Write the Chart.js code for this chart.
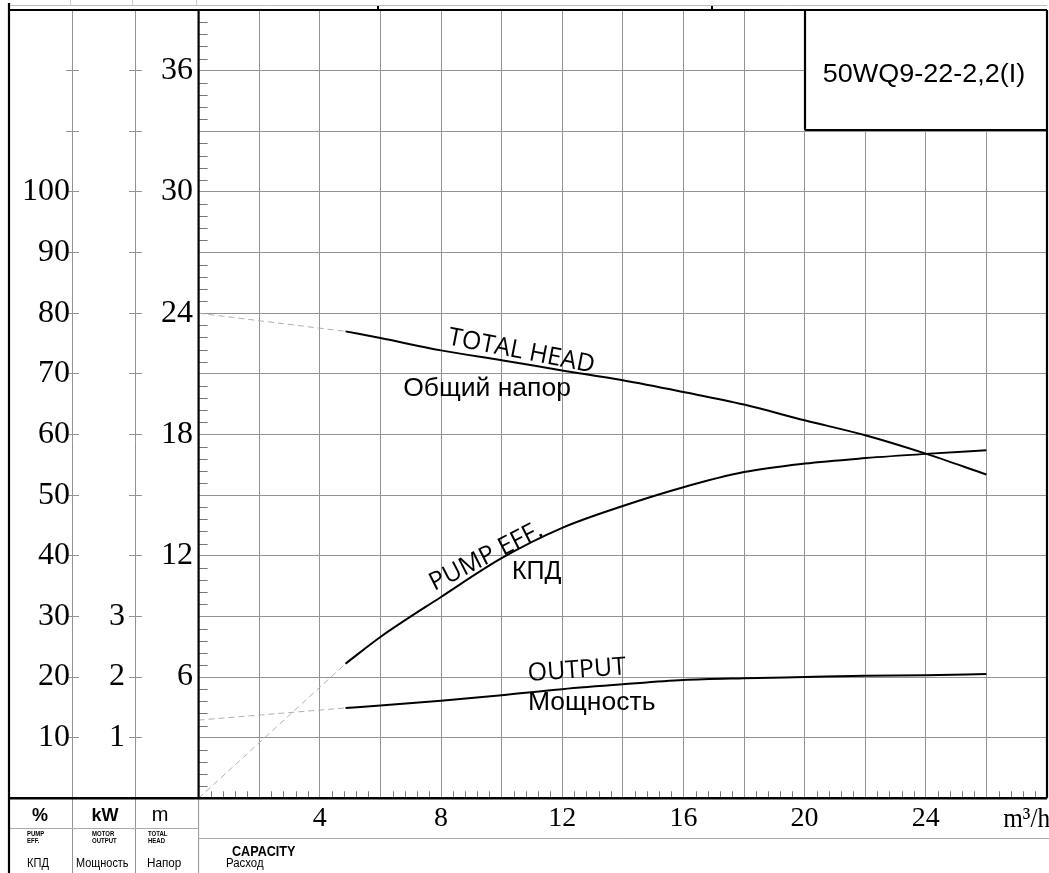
<!DOCTYPE html>
<html><head><meta charset="utf-8">
<script src="https://cdn.jsdelivr.net/npm/chart.js@4"></script>
<style>html,body{margin:0;padding:0;background:#fff;overflow:hidden}#wrap{width:1049px;height:873px;position:relative}</style>
</head><body><div id="wrap"><canvas id="c" width="1049" height="873"></canvas></div>
<script>
// ---- data ----
const flow     = [4.85, 6, 8, 10, 12, 14, 16, 18, 20, 22, 24, 26];          // m3/h
const headM    = [23.1, 22.77, 22.16, 21.67, 21.17, 20.68, 20.1, 19.48, 18.7, 17.96, 17.05, 16.02]; // m
const effPct   = [22.2, 26.6, 33.2, 39.6, 44.6, 48.2, 51.3, 53.8, 55.2, 56.1, 56.8, 57.4];       // %
const powerKW  = [1.49, 1.53, 1.61, 1.70, 1.80, 1.88, 1.95, 1.98, 2.00, 2.02, 2.03, 2.05];       // kW
// dashed extrapolation toward zero flow
const extFlow  = [0, 4.85];
const headExt  = [24.0, 23.1];
const effExt   = [0, 22.2];
const powerExt = [1.29, 1.49];
// tick labels
const xTickLabels    = [4, 8, 12, 16, 20, 24];
const headTickLabels = [6, 12, 18, 24, 30, 36];
const effTickLabels  = [10, 20, 30, 40, 50, 60, 70, 80, 90, 100];
const powerTickLabels= [1, 2, 3];
const modelName = '50WQ9-22-2,2(I)';

const pts = (xs, ys) => xs.map((x, i) => ({x: x, y: ys[i]}));
const SERIF = '"Liberation Serif", "Times New Roman", serif';
const SANS = '"Liberation Sans", Arial, sans-serif';
const OPEN = '"Open Sans", "Liberation Sans", sans-serif';
const GRID = '#939393';

function txt(ctx, s, x, y, font, align, baseline, sx, rotDeg) {
  ctx.save();
  ctx.translate(x, y);
  if (rotDeg) ctx.rotate(rotDeg * Math.PI / 180);
  if (sx && sx !== 1) ctx.scale(sx, 1);
  ctx.font = font; ctx.textAlign = align; ctx.textBaseline = baseline;
  ctx.fillStyle = '#000';
  ctx.fillText(s, 0, 0);
  ctx.restore();
}
function line(ctx, x1, y1, x2, y2, color, w) {
  ctx.save(); ctx.strokeStyle = color; ctx.lineWidth = w; ctx.setLineDash([]);
  ctx.beginPath(); ctx.moveTo(x1, y1); ctx.lineTo(x2, y2); ctx.stroke(); ctx.restore();
}

const curveLabels = [
  {text: 'TOTAL HEAD', x: 8.2, m: 22.46, rot: 11, font: '500 25px ' + OPEN},
  {text: 'Общий напор', x: 6.75, m: 19.91, rot: 0, font: '26.5px ' + SANS},
  {text: 'PUMP EFF.', x: 7.78, m: 10.25, rot: -27, font: '500 25px ' + OPEN},
  {text: 'КПД', x: 10.34, m: 10.85, rot: 0, font: '25px ' + SANS},
  {text: 'OUTPUT', x: 10.88, m: 5.80, rot: -4, font: '500 25px ' + OPEN},
  {text: 'Мощность', x: 10.87, m: 4.37, rot: 0, font: '26.5px ' + SANS}
];

const decor = {
  id: 'decor',
  afterDraw(chart) {
    const ctx = chart.ctx;
    const ca = chart.chartArea;
    const xs = chart.scales.x, ys = chart.scales.m;
    const L = ca.left, R = ca.right, T = ca.top, B = ca.bottom;
    const W = 1049, H = 873;
    // minor ticks
    ctx.save();
    ctx.strokeStyle = '#777'; ctx.lineWidth = 1;
    for (let i = 1; i < 65; i++) {
      if (i % 5 === 0) continue;
      const y = Math.round(ys.getPixelForValue(i * 0.6)) + 0.5;
      ctx.beginPath(); ctx.moveTo(L, y); ctx.lineTo(L + 9, y); ctx.stroke();
    }
    for (let i = 1; i < 70; i++) {
      if (i % 5 === 0) continue;
      const x = Math.round(xs.getPixelForValue(i * 0.4)) + 0.5;
      ctx.beginPath(); ctx.moveTo(x, B); ctx.lineTo(x, B - 7); ctx.stroke();
    }
    ctx.restore();
    // title box
    ctx.fillStyle = '#fff';
    ctx.fillRect(805, T + 1, R - 805, 130 - T - 1);
    txt(ctx, modelName, 924, 75, '25px ' + SANS, 'center', 'middle', 1.08, 0);
    // grey column lines
    line(ctx, 72.5, T, 72.5, H, GRID, 1);
    line(ctx, 135.5, T, 135.5, H, GRID, 1);
    line(ctx, L, B, L, H, GRID, 1);
    line(ctx, 9, 828.5, L, 828.5, '#aaa', 1);
    line(ctx, L, 838.5, W, 838.5, '#aaa', 1);
    // top strip remnants
    line(ctx, 9, 5.5, R, 5.5, '#bbb', 1);
    line(ctx, 70.5, 0, 70.5, 5, '#ccc', 1);
    line(ctx, 132.5, 0, 132.5, 5, '#ccc', 1);
    line(ctx, 196.5, 0, 196.5, 5, '#ccc', 1);
    line(ctx, 378, 6, 378, 10, '#000', 2);
    line(ctx, 712, 6, 712, 10, '#000', 2);
    // thick black frame
    line(ctx, 9, T, R, T, '#000', 2.2);
    line(ctx, 9, 3, 9, H, '#000', 2.2);
    line(ctx, L, T, L, B, '#000', 2.2);
    line(ctx, 9, B, R, B, '#000', 2.4);
    line(ctx, R, T, R, B, '#000', 2.2);
    line(ctx, 805, T, 805, 130, '#000', 2.2);
    line(ctx, 805, 130, R, 130, '#000', 2.2);
    // unit label at end of x axis
    txt(ctx, 'm³/h', W + 1, 827, '28px ' + SERIF, 'right', 'alphabetic', 0.9, 0);
    // bottom-left legend cells
    txt(ctx, '%', 40, 821, 'bold 18px ' + SANS, 'center', 'alphabetic', 1, 0);
    txt(ctx, 'kW', 105, 821, 'bold 18px ' + SANS, 'center', 'alphabetic', 1, 0);
    txt(ctx, 'm', 160, 821, '20px ' + SANS, 'center', 'alphabetic', 1, 0);
    const sf = 'bold 7.5px ' + SANS;
    txt(ctx, 'PUMP', 27, 836, sf, 'left', 'alphabetic', 0.8, 0);
    txt(ctx, 'EFF.', 27, 843, sf, 'left', 'alphabetic', 0.8, 0);
    txt(ctx, 'MOTOR', 92, 836, sf, 'left', 'alphabetic', 0.8, 0);
    txt(ctx, 'OUTPUT', 92, 843, sf, 'left', 'alphabetic', 0.8, 0);
    txt(ctx, 'TOTAL', 148, 836, sf, 'left', 'alphabetic', 0.8, 0);
    txt(ctx, 'HEAD', 148, 843, sf, 'left', 'alphabetic', 0.8, 0);
    const rf = '13px ' + SANS;
    txt(ctx, 'КПД', 27, 867, rf, 'left', 'alphabetic', 0.85, 0);
    txt(ctx, 'Мощность', 76, 867, rf, 'left', 'alphabetic', 0.84, 0);
    txt(ctx, 'Напор', 147, 867, rf, 'left', 'alphabetic', 0.9, 0);
    txt(ctx, 'CAPACITY', 232, 856, 'bold 14px ' + SANS, 'left', 'alphabetic', 0.9, 0);
    txt(ctx, 'Расход', 226, 867, '12px ' + SANS, 'left', 'alphabetic', 0.95, 0);
    // curve labels placed in data coordinates
    for (const c of curveLabels) {
      txt(ctx, c.text, xs.getPixelForValue(c.x), ys.getPixelForValue(c.m), c.font, 'left', 'alphabetic', 1, c.rot);
    }
  }
};

const solid = {borderColor: '#000', borderWidth: 2, pointRadius: 0, fill: false, cubicInterpolationMode: 'monotone'};
const dashed = {borderColor: '#b0b0b0', borderWidth: 1, borderDash: [6, 4], pointRadius: 0, fill: false, tension: 0};

new Chart(document.getElementById('c'), {
  type: 'line',
  data: {
    datasets: [
      Object.assign({label: 'Head ext', data: pts(extFlow, headExt), yAxisID: 'm'}, dashed),
      Object.assign({label: 'Eff ext', data: pts(extFlow, effExt), yAxisID: 'pct'}, dashed),
      Object.assign({label: 'Power ext', data: pts(extFlow, powerExt), yAxisID: 'kw'}, dashed),
      Object.assign({label: 'TOTAL HEAD', data: pts(flow, headM), yAxisID: 'm'}, solid),
      Object.assign({label: 'PUMP EFF.', data: pts(flow, effPct), yAxisID: 'pct'}, solid),
      Object.assign({label: 'OUTPUT', data: pts(flow, powerKW), yAxisID: 'kw'}, solid)
    ]
  },
  options: {
    responsive: false, animation: false, devicePixelRatio: 1,
    layout: {padding: {left: 9, top: 10, right: 2, bottom: 0}},
    plugins: {legend: {display: false}, tooltip: {enabled: false}},
    scales: {
      x: {
        type: 'linear', position: 'bottom', min: 0, max: 28,
        grid: {color: GRID, drawTicks: false, lineWidth: 1},
        border: {display: false},
        ticks: {stepSize: 2, autoSkip: false, maxRotation: 0, padding: 4, color: '#000',
          font: {family: SERIF, size: 28},
          callback: v => xTickLabels.includes(v) ? String(v) : ''},
        afterFit: s => { s.height = 873 - 798.3; s.paddingLeft = 0; s.paddingRight = 0; }
      },
      pct: {
        type: 'linear', position: 'left', weight: 3, min: 0, max: 130,
        grid: {drawOnChartArea: false, drawTicks: true, tickLength: 13, color: GRID},
        border: {display: false},
        ticks: {stepSize: 10, autoSkip: false, padding: -4, color: '#000',
          font: {family: SERIF, size: 32},
          callback: v => effTickLabels.includes(v) ? String(v) : ''},
        afterFit: s => { s.width = 70; s.paddingTop = 0; s.paddingBottom = 0; }
      },
      kw: {
        type: 'linear', position: 'left', weight: 2, min: 0, max: 13,
        grid: {drawOnChartArea: false, drawTicks: true, tickLength: 13, color: GRID},
        border: {display: false},
        ticks: {stepSize: 1, autoSkip: false, padding: 4, color: '#000',
          font: {family: SERIF, size: 32},
          callback: v => powerTickLabels.includes(v) ? String(v) : ''},
        afterFit: s => { s.width = 63; s.paddingTop = 0; s.paddingBottom = 0; }
      },
      m: {
        type: 'linear', position: 'left', weight: 1, min: 0, max: 39,
        grid: {color: GRID, drawTicks: false, lineWidth: 1},
        border: {display: false},
        ticks: {stepSize: 3, autoSkip: false, padding: 5.6, color: '#000',
          font: {family: SERIF, size: 32},
          callback: v => headTickLabels.includes(v) ? String(v) : ''},
        afterFit: s => { s.width = 56.6; s.paddingTop = 0; s.paddingBottom = 0; }
      }
    }
  },
  plugins: [decor]
});
</script>
</body></html>
